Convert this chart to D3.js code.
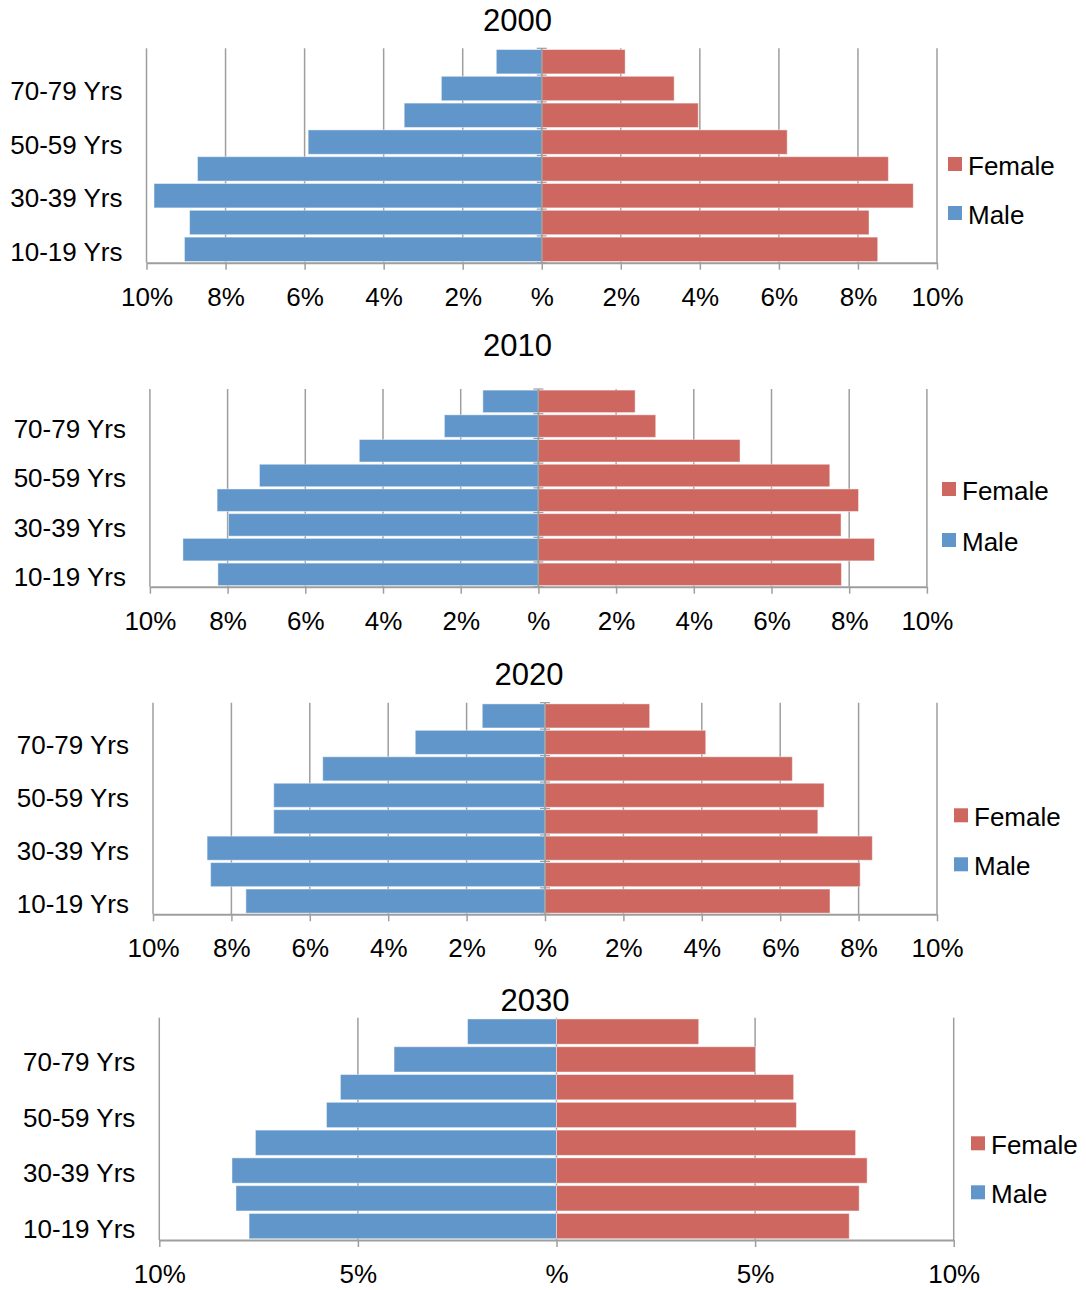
<!DOCTYPE html>
<html>
<head>
<meta charset="utf-8">
<script src="https://cdn.jsdelivr.net/npm/d3@7"></script>
<style>
  html, body { margin: 0; padding: 0; background: #ffffff; }
  svg { display: block; }
  text { font-family: "Liberation Sans", Arial, Helvetica, sans-serif; fill: #000; }
</style>
</head>
<body>
<svg id="chart" width="1086" height="1290"></svg>
<script>
// ---------------- DATA ----------------
const ageGroups = ["10-19 Yrs", "20-29 Yrs", "30-39 Yrs", "40-49 Yrs", "50-59 Yrs", "60-69 Yrs", "70-79 Yrs", "80+ Yrs"];
const shownAgeLabels = ["10-19 Yrs", "30-39 Yrs", "50-59 Yrs", "70-79 Yrs"];
const years = ["2000", "2010", "2020", "2030"];
const seriesNames = ["Female", "Male"];

const male2000   = [9.04, 8.91, 9.81, 8.71, 5.91, 3.48, 2.54, 1.15];
const female2000 = [8.50, 8.28, 9.40, 8.77, 6.21, 3.96, 3.35, 2.11];
const male2010   = [8.25, 9.15, 7.98, 8.27, 7.18, 4.61, 2.42, 1.43];
const female2010 = [7.80, 8.65, 7.79, 8.24, 7.50, 5.19, 3.02, 2.49];
const male2020   = [7.63, 8.53, 8.62, 6.92, 6.92, 5.67, 3.31, 1.60];
const female2020 = [7.27, 8.04, 8.35, 6.96, 7.12, 6.31, 4.10, 2.67];
const male2030   = [7.74, 8.07, 8.17, 7.58, 5.79, 5.44, 4.09, 2.24];
const female2030 = [7.37, 7.62, 7.82, 7.53, 6.04, 5.97, 5.01, 3.58];

const ticksBy2 = [-10, -8, -6, -4, -2, 0, 2, 4, 6, 8, 10];
const ticksBy5 = [-10, -5, 0, 5, 10];

// ---------------- LAYOUT / STYLE ----------------
const COLORS = { Female: "#cd6760", Male: "#6196ca" };
const GRID = "#9e9e9e";
const panels = [
  { year: years[0], male: male2000, female: female2000, ticks: ticksBy2,
    left: 146.5, right: 937, top: 48.3, bottom: 262.7, tx: 517.4, ty: 20.5,
    lx: 948, ly: 164, lstep: 49, zeroOnTop: true },
  { year: years[1], male: male2010, female: female2010, ticks: ticksBy2,
    left: 149.9, right: 926.9, top: 389, bottom: 586.7, tx: 517.4, ty: 345,
    lx: 942, ly: 489, lstep: 51, zeroOnTop: true },
  { year: years[2], male: male2020, female: female2020, ticks: ticksBy2,
    left: 153, right: 937, top: 702.7, bottom: 914.3, tx: 529, ty: 674,
    lx: 954, ly: 815.3, lstep: 49, zeroOnTop: true },
  { year: years[3], male: male2030, female: female2030, ticks: ticksBy5,
    left: 159.3, right: 953.7, top: 1017.7, bottom: 1240, tx: 535, ty: 1000.5,
    lx: 971, ly: 1143.3, lstep: 49, zeroOnTop: false }
];

const svg = d3.select("#chart");
svg.append("rect").attr("width", 1086).attr("height", 1290).attr("fill", "#fff");

const fmt = v => (v === 0 ? "%" : Math.abs(v) + "%");

panels.forEach(p => {
  const g = svg.append("g");
  const x = d3.scaleLinear().domain([-10, 10]).range([p.left, p.right]);
  const y = d3.scaleBand().domain(ageGroups.slice().reverse())
    .range([p.top, p.bottom]).paddingInner(0.09).paddingOuter(0.045);

  // title
  g.append("text").attr("x", p.tx).attr("y", p.ty).attr("dy", "0.35em")
    .attr("text-anchor", "middle").style("font-size", "31px").text(p.year);

  // gridlines
  g.append("g").selectAll("line").data(p.ticks).join("line")
    .attr("x1", d => x(d)).attr("x2", d => x(d))
    .attr("y1", p.top).attr("y2", p.bottom)
    .attr("stroke", GRID).attr("stroke-width", 1.5);

  // bars
  const rows = ageGroups.map((a, i) => ({ age: a, male: p.male[i], female: p.female[i] }));
  g.append("g").selectAll("rect").data(rows).join("rect")
    .attr("x", d => x(-d.male)).attr("width", d => x(0) - x(-d.male))
    .attr("y", d => y(d.age)).attr("height", y.bandwidth())
    .attr("fill", COLORS.Male).attr("stroke", "#fff").attr("stroke-opacity", 0.45).attr("stroke-width", 1);
  g.append("g").selectAll("rect").data(rows).join("rect")
    .attr("x", x(0)).attr("width", d => x(d.female) - x(0))
    .attr("y", d => y(d.age)).attr("height", y.bandwidth())
    .attr("fill", COLORS.Female).attr("stroke", "#fff").attr("stroke-opacity", 0.45).attr("stroke-width", 1);

  // category axis at zero with crossing tick marks
  if (p.zeroOnTop) {
    const za = g.append("g");
    za.append("line").attr("x1", x(0)).attr("x2", x(0)).attr("y1", p.top).attr("y2", p.bottom)
      .attr("stroke", GRID).attr("stroke-width", 1.5);
    const n = ageGroups.length;
    za.selectAll("line.ct").data(d3.range(n + 1)).join("line").attr("class", "ct")
      .attr("x1", x(0) - 5).attr("x2", x(0) + 5)
      .attr("y1", i => p.top + (p.bottom - p.top) * i / n)
      .attr("y2", i => p.top + (p.bottom - p.top) * i / n)
      .attr("stroke", GRID).attr("stroke-width", 1.2);
  }

  // x axis
  const ax = g.append("g").attr("transform", `translate(0,${p.bottom})`)
    .call(d3.axisBottom(x).tickValues(p.ticks).tickSize(7).tickSizeOuter(0).tickFormat(fmt));
  ax.select(".domain").attr("stroke", GRID).attr("stroke-width", 2);
  ax.selectAll(".tick line").attr("stroke", GRID).attr("stroke-width", 1.5);
  ax.selectAll(".tick text").attr("y", 34).attr("dy", "0.35em")
    .style("font-size", "26px").style("font-family", "'Liberation Sans', Arial, sans-serif").attr("fill", "#000");

  // category labels
  g.append("g").selectAll("text").data(shownAgeLabels).join("text")
    .attr("x", p.left - 24).attr("y", d => y(d) + y.bandwidth() / 2).attr("dy", "0.45em")
    .attr("text-anchor", "end").style("font-size", "26px").text(d => d);

  // legend
  const lg = g.append("g");
  seriesNames.forEach((s, i) => {
    const cy = p.ly + i * p.lstep;
    lg.append("rect").attr("x", p.lx).attr("y", cy - 7).attr("width", 14).attr("height", 14)
      .attr("fill", COLORS[s]);
    lg.append("text").attr("x", p.lx + 20).attr("y", cy + 2).attr("dy", "0.35em")
      .style("font-size", "26px").text(s);
  });
});
</script>
</body>
</html>
